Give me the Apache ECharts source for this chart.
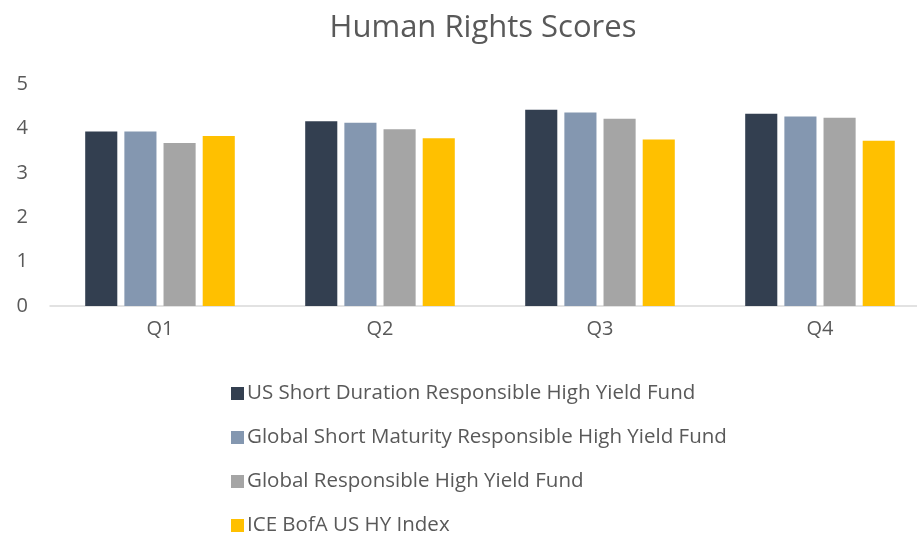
<!DOCTYPE html>
<html>
<head>
<meta charset="utf-8">
<title>Human Rights Scores</title>
<script src="https://cdn.jsdelivr.net/npm/echarts@6/dist/echarts.min.js"></script>
<style>
  html, body { margin: 0; padding: 0; background: #fff; overflow: hidden; }
  /* the reference crops the plot on the right, so the canvas is a bit wider than the window */
  #chart { width: 930px; height: 535px; }
</style>
</head>
<body>
<div id="chart"></div>
<script>
// data
const quarters = ['Q1', 'Q2', 'Q3', 'Q4'];
const seriesNames = [
  'US Short Duration Responsible High Yield Fund',
  'Global Short Maturity Responsible High Yield Fund',
  'Global Responsible High Yield Fund',
  'ICE BofA US HY Index'
];
const usShortDuration = [3.93, 4.16, 4.42, 4.33];
const globalShortMaturity = [3.93, 4.13, 4.36, 4.27];
const globalResponsible = [3.67, 3.98, 4.22, 4.24];
const iceBofaIndex = [3.83, 3.78, 3.75, 3.72];
const colors = ['#333F50', '#8497B0', '#A5A5A5', '#FFC000'];

const seriesValues = [usShortDuration, globalShortMaturity, globalResponsible, iceBofaIndex];
const textColor = '#595959';
const font = 'Open Sans';

const chart = echarts.init(document.getElementById('chart'));

const option = {
  animation: false,
  color: colors,
  title: {
    text: 'Human Rights Scores',
    left: 478,
    top: 8,
    textAlign: 'center',
    textStyle: { fontFamily: font, fontSize: 31, fontWeight: 'normal', color: textColor }
  },
  legend: {
    orient: 'vertical',
    left: 226,
    top: 378,
    height: 160,
    itemWidth: 13,
    itemHeight: 13,
    itemGap: 23,
    icon: 'rect',
    textStyle: { fontFamily: font, fontSize: 20.5, color: textColor, padding: [0, 0, 0, -2] },
    data: seriesNames
  },
  grid: {
    left: 50,
    top: 84,
    right: 0,
    height: 222
  },
  xAxis: {
    type: 'category',
    data: quarters,
    axisLine: { lineStyle: { color: '#D9D9D9', width: 1.5 } },
    axisTick: { show: false },
    axisLabel: { fontFamily: font, fontSize: 20, color: textColor, margin: 13 }
  },
  yAxis: {
    type: 'value',
    min: 0,
    max: 5,
    interval: 1,
    axisLine: { show: false },
    axisTick: { show: false },
    splitLine: { show: false },
    axisLabel: { fontFamily: font, fontSize: 20, color: textColor, margin: 22 }
  },
  series: seriesNames.map((name, i) => ({
    name: name,
    type: 'bar',
    data: seriesValues[i],
    barGap: '22%',
    barCategoryGap: '32%',
    itemStyle: { color: colors[i] }
  }))
};

chart.setOption(option);
</script>
</body>
</html>
